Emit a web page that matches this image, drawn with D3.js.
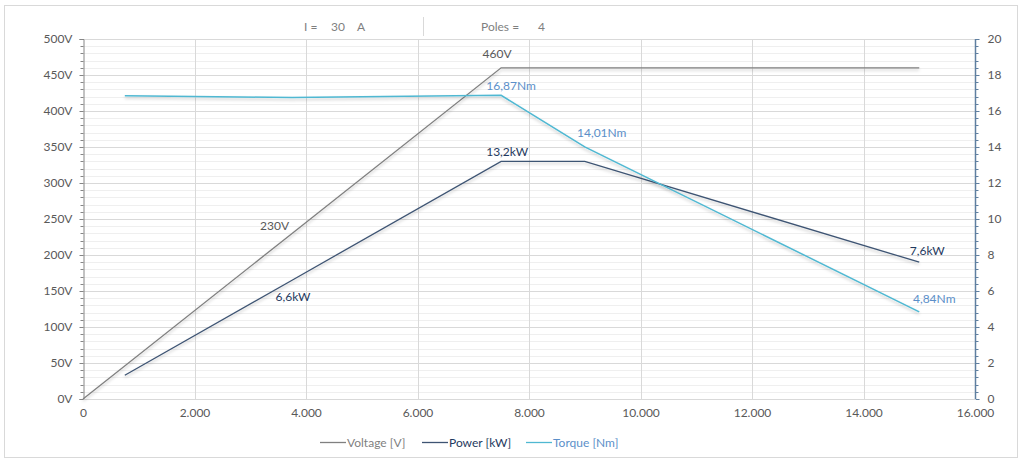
<!DOCTYPE html>
<html>
<head>
<meta charset="utf-8">
<script src="https://cdn.jsdelivr.net/npm/d3@7"></script>
<style>
  body { margin: 0; background: #fff; }
  svg { font-family: Lato, "Open Sans", "Liberation Sans", sans-serif; }
</style>
</head>
<body>
<div id="chart"></div>
<script>
// speed [rpm] on x, voltage [V] on the left axis, power / torque on the right axis
var speed       = [750, 3750, 7500, 9000, 15000];
var voltageX    = [0, 3750, 7500, 9000, 15000];
var voltage     = [0, 230, 460, 460, 460];
var power       = [1.32, 6.6, 13.2, 13.2, 7.6];
var torque      = [16.85, 16.75, 16.87, 14.01, 4.84];

var voltageLabels = ["", "230V", "460V", "", ""];
var powerLabels   = ["", "6,6kW", "13,2kW", "", "7,6kW"];
var torqueLabels  = ["", "", "16,87Nm", "14,01Nm", "4,84Nm"];

var xTicks      = [0, 2000, 4000, 6000, 8000, 10000, 12000, 14000, 16000];
var leftTicks   = [0, 50, 100, 150, 200, 250, 300, 350, 400, 450, 500];
var rightTicks  = [0, 2, 4, 6, 8, 10, 12, 14, 16, 18, 20];

var seriesNames = ["Voltage [V]", "Power [kW]", "Torque [Nm]"];

var width = 1024, height = 463;
var margin = {top: 39, left: 83, bottom: 64, right: 49};
var chartWidth = width - margin.left - margin.right,
    chartHeight = height - margin.top - margin.bottom;

var fontSize = 12;

var colors = {
    voltage: "#808080",
    power: "#3e5473",
    torque: "#4fb8d2",
    powerText: "#1f3a60",
    torqueText: "#5b8fc9",
    axisText: "#595959"
};

var svg = d3.select("#chart").append("svg")
    .attr("width", width).attr("height", height);

var defs = svg.append("defs");
var shadow = defs.append("filter").attr("id", "shadow")
    .attr("x", "-5%").attr("y", "-20%").attr("width", "110%").attr("height", "160%");
shadow.append("feDropShadow")
    .attr("dx", 0).attr("dy", 2).attr("stdDeviation", 1.6)
    .attr("flood-color", "#000").attr("flood-opacity", 0.22);

// outer frame
svg.append("rect")
    .attr("x", 4.5).attr("y", 5.5).attr("width", 1013).attr("height", 452)
    .attr("fill", "#fff").attr("stroke", "#d9d9d9");

// header
var header = svg.append("g").attr("fill", "#7f7f7f").attr("font-size", fontSize);
header.append("text").attr("x", 304).attr("y", 31).text("I =");
header.append("text").attr("x", 331).attr("y", 31).text("30");
header.append("text").attr("x", 357).attr("y", 31).text("A");
header.append("line").attr("x1", 423.5).attr("x2", 423.5).attr("y1", 17).attr("y2", 36)
    .attr("stroke", "#d9d9d9");
header.append("text").attr("x", 481).attr("y", 31).text("Poles =");
header.append("text").attr("x", 538).attr("y", 31).text("4");

var x = d3.scaleLinear().domain([0, 16000]).range([margin.left, margin.left + chartWidth]);
var yLeft = d3.scaleLinear().domain([0, 500]).range([margin.top + chartHeight, margin.top]);
var yRight = d3.scaleLinear().domain([0, 20]).range([margin.top + chartHeight, margin.top]);

var grid = svg.append("g");
// minor horizontal gridlines
grid.selectAll("line.minor")
    .data(d3.range(0, 501, 10).filter(function(d){ return d % 50 !== 0; }))
    .enter().append("line").attr("class", "minor")
    .attr("x1", x(0)).attr("x2", x(16000))
    .attr("y1", function(d){ return Math.round(yLeft(d)) + 0.5; })
    .attr("y2", function(d){ return Math.round(yLeft(d)) + 0.5; })
    .attr("stroke", "#efefef");
grid.selectAll("line.major")
    .data(leftTicks)
    .enter().append("line").attr("class", "major")
    .attr("x1", x(0)).attr("x2", x(16000))
    .attr("y1", function(d){ return Math.round(yLeft(d)) + 0.5; })
    .attr("y2", function(d){ return Math.round(yLeft(d)) + 0.5; })
    .attr("stroke", "#d9d9d9");
grid.selectAll("line.vert")
    .data(xTicks.slice(1))
    .enter().append("line").attr("class", "vert")
    .attr("x1", function(d){ return Math.round(x(d)) + 0.5; })
    .attr("x2", function(d){ return Math.round(x(d)) + 0.5; })
    .attr("y1", yLeft(500)).attr("y2", yLeft(0))
    .attr("stroke", "#d9d9d9");

// left axis
var leftAxis = svg.append("g")
    .attr("transform", "translate(" + (margin.left + 0.5) + ",0)")
    .call(d3.axisLeft(yLeft).tickValues(leftTicks).tickSize(4).tickPadding(7)
        .tickFormat(function(d){ return d + "V"; }));
leftAxis.selectAll("line.minor")
    .data(d3.range(0, 501, 10).filter(function(d){ return d % 50 !== 0; }))
    .enter().append("line").attr("class", "minor")
    .attr("x1", -3).attr("x2", 0)
    .attr("y1", function(d){ return Math.round(yLeft(d)) + 0.5; })
    .attr("y2", function(d){ return Math.round(yLeft(d)) + 0.5; });
leftAxis.selectAll("line").attr("stroke", "#868686");
leftAxis.select(".domain").attr("stroke", "#868686");

// right axis
var rightAxis = svg.append("g")
    .attr("transform", "translate(" + (margin.left + chartWidth + 0.5) + ",0)")
    .call(d3.axisRight(yRight).tickValues(rightTicks).tickSize(4).tickPadding(8));
rightAxis.selectAll("line.minor")
    .data(d3.range(0, 20.01, 0.4).filter(function(d){ return Math.abs(d / 2 - Math.round(d / 2)) > 0.01; }))
    .enter().append("line").attr("class", "minor")
    .attr("x1", 0).attr("x2", 3)
    .attr("y1", function(d){ return Math.round(yRight(d)) + 0.5; })
    .attr("y2", function(d){ return Math.round(yRight(d)) + 0.5; });
rightAxis.selectAll("line").attr("stroke", "#5f7fa0");
rightAxis.select(".domain").attr("stroke", "#5f7fa0").attr("stroke-width", 1.5);
rightAxis.select(".domain").attr("d", "M0," + yRight(0) + "V" + yRight(20));

// x axis (labels only)
var xAxis = svg.append("g")
    .attr("transform", "translate(0," + (margin.top + chartHeight) + ")")
    .call(d3.axisBottom(x).tickValues(xTicks).tickSize(0).tickPadding(9)
        .tickFormat(function(d){ return d3.format(",")(d).replace(/,/g, "."); }));
xAxis.select(".domain").attr("stroke", "#d9d9d9");

[leftAxis, rightAxis, xAxis].forEach(function(a){
    a.attr("font-family", null).attr("font-size", fontSize);
    a.selectAll("text").attr("fill", colors.axisText);
});

// series
var lineGen = function(xs, ys, yScale) {
    return d3.line()
        .x(function(d, i){ return x(xs[i]); })
        .y(function(d){ return yScale(d); })(ys);
};

var lines = svg.append("g").attr("fill", "none").attr("stroke-width", 1.3);
lines.append("path").attr("d", lineGen(voltageX, voltage, yLeft))
    .attr("stroke", colors.voltage).attr("filter", "url(#shadow)");
lines.append("path").attr("d", lineGen(speed, power, yRight))
    .attr("stroke", colors.power).attr("filter", "url(#shadow)");
lines.append("path").attr("d", lineGen(speed, torque, yRight))
    .attr("stroke", colors.torque).attr("stroke-width", 1.5).attr("filter", "url(#shadow)");

// data labels: offsets relative to the point
var labelOffsets = {
    "230V": [-3, -3, "end"],
    "460V": [-4, -10, "middle"],
    "6,6kW": [1, 21, "middle"],
    "13,2kW": [6, -5, "middle"],
    "7,6kW": [8, -7, "middle"],
    "16,87Nm": [10, -5, "middle"],
    "14,01Nm": [17, -10, "middle"],
    "4,84Nm": [15, -9, "middle"]
};

var labels = svg.append("g").attr("font-size", fontSize);
function addLabels(xs, ys, texts, yScale, color) {
    texts.forEach(function(t, i) {
        if (!t) return;
        var o = labelOffsets[t];
        labels.append("text")
            .attr("x", x(xs[i]) + o[0])
            .attr("y", yScale(ys[i]) + o[1])
            .attr("text-anchor", o[2])
            .attr("fill", color)
            .text(t);
    });
}
addLabels(voltageX, voltage, voltageLabels, yLeft, "#595959");
addLabels(speed, power, powerLabels, yRight, colors.powerText);
addLabels(speed, torque, torqueLabels, yRight, colors.torqueText);

// legend
var legendItems = [
    {name: seriesNames[0], line: colors.voltage, text: "#7f7f7f", x: 320},
    {name: seriesNames[1], line: colors.power, text: colors.powerText, x: 422},
    {name: seriesNames[2], line: colors.torque, text: colors.torqueText, x: 526}
];
var legend = svg.append("g").attr("font-size", fontSize);
var lg = legend.selectAll("g").data(legendItems).enter().append("g")
    .attr("transform", function(d){ return "translate(" + d.x + ",442)"; });
lg.append("line").attr("x1", 0).attr("x2", 26).attr("y1", 0.5).attr("y2", 0.5)
    .attr("stroke", function(d){ return d.line; }).attr("stroke-width", 1.3);
lg.append("text").attr("x", 27).attr("y", 4.5)
    .attr("fill", function(d){ return d.text; })
    .text(function(d){ return d.name; });
</script>
</body>
</html>
